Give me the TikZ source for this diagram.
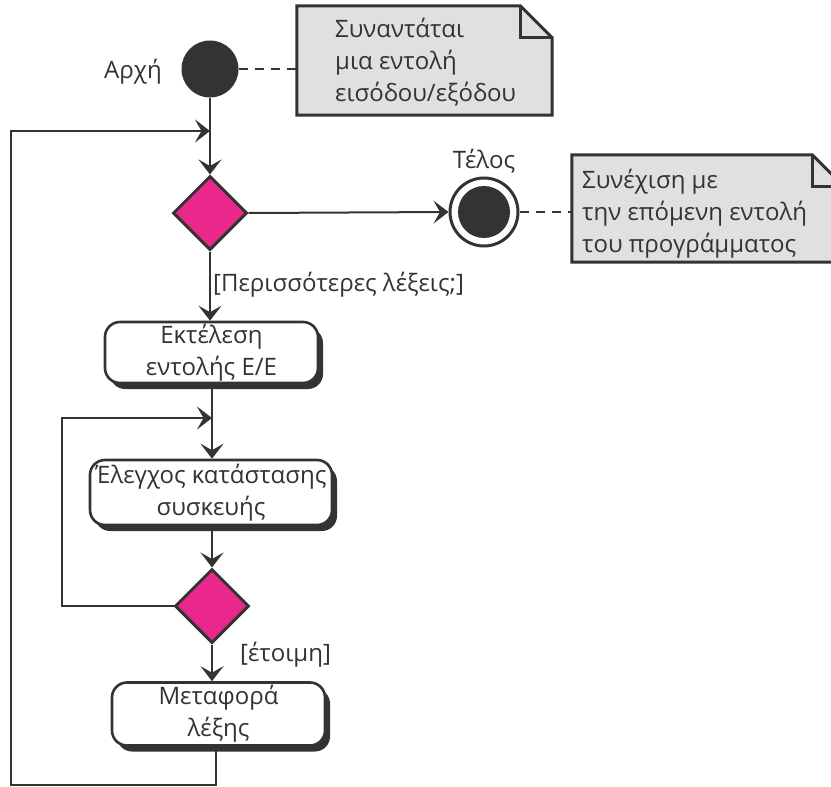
\documentclass[tikz,border=0pt]{standalone}
\usepackage{fontspec}
\setmainfont{Open Sans}
\usetikzlibrary{arrows.meta,shapes.geometric,shadows,calc}
\definecolor{ink}{RGB}{51,51,51}
\definecolor{notefill}{RGB}{224,224,224}
\definecolor{decision}{RGB}{234,40,140}
\begin{document}
\begin{tikzpicture}[x=1pt,y=-1pt,
  font=\fontsize{24}{32}\selectfont, text=ink,
  flow/.style={draw=ink, line width=2pt,
    -{Stealth[length=15pt,width=23pt,inset=6.5pt]}},
  link/.style={draw=ink, line width=2.4pt, dash pattern=on 9pt off 7pt},
  initial/.style={circle, fill=ink, minimum size=57pt, inner sep=0pt},
  finalring/.style={circle, draw=ink, line width=3pt, fill=white, minimum size=68pt, inner sep=0pt},
  finalcore/.style={circle, fill=ink, minimum size=52pt, inner sep=0pt},
  choice/.style={diamond, draw=ink, line width=3pt, fill=decision,
    minimum width=74pt, minimum height=74pt, inner sep=0pt},
  action/.style={rectangle, rounded corners=15pt, draw=ink, line width=2.6pt,
    fill=white, align=center, inner sep=0pt,
    drop shadow={shadow xshift=5pt, shadow yshift=-6pt, fill=ink, opacity=1}},
  notebody/.style={rectangle, inner sep=0pt, align=left},
  fold/.style={draw=ink, line width=3pt, fill=notefill, line join=miter}
]
\useasboundingbox (0,0) rectangle (831,787);

% notes: outline with a folded top-right corner
\node[notebody, minimum width=255pt, minimum height=109pt] (note1) at (424.5,60.5) {};
\draw[fold] (note1.south west) -- (note1.north west)
  -- ($(note1.north east)+(-32,0)$) -- ($(note1.north east)+(0,32)$)
  -- (note1.south east) -- cycle;
\draw[fold, fill=none] ($(note1.north east)+(-32,0)$) -- ($(note1.north east)+(-32,32)$) -- ($(note1.north east)+(0,32)$);
\node[notebody, anchor=west] (note1text) at (335,62)
  {Συναντάται\\μια εντολή\\εισόδου/εξόδου};

\node[notebody, minimum width=272pt, minimum height=107pt] (note2) at (708,208.5) {};
\draw[fold] (note2.south west) -- (note2.north west)
  -- ($(note2.north east)+(-32,0)$) -- ($(note2.north east)+(0,32)$)
  -- (note2.south east) -- cycle;
\draw[fold, fill=none] ($(note2.north east)+(-32,0)$) -- ($(note2.north east)+(-32,32)$) -- ($(note2.north east)+(0,32)$);
\node[notebody, anchor=west] (note2text) at (582,214)
  {Συνέχιση με\\την επόμενη εντολή\\του προγράμματος};

% start and end
\node[initial] (start) at (210,69) {};
\node (startlbl) at (133,72) {Αρχή};
\node[finalring] (end) at (484,212) {};
\node[finalcore] (endcore) at (end.center) {};
\node (endlbl) at (484,161) {Τέλος};

% decisions and actions
\node[choice] (d1) at (210,213) {};
\node[action, minimum width=213pt, minimum height=61pt] (b1) at (211.5,352.5) {Εκτέλεση\\εντολής Ε/Ε};
\node[action, minimum width=242pt, minimum height=65pt] (b2) at (211,492.5) {Έλεγχος κατάστασης\\συσκευής};
\node[choice] (d2) at (212,606) {};
\node[action, minimum width=213pt, minimum height=63pt] (b3) at (218.5,714) {Μεταφορά\\λέξης};

% guard labels
\node[anchor=west, inner sep=0pt] (g1) at (213,285) {[Περισσότερες λέξεις;]};
\node[anchor=west, inner sep=0pt] (g2) at (240,655) {[έτοιμη]};

% note links
\draw[link] (start.east) -- (note1.west |- start.east);
\draw[link] (end.east) -- (note2.west |- end.east);

% main flow
\coordinate (j1) at (210,131);
\coordinate (j2) at (212,418);
\draw[flow] (start.south) -- (d1.north);
\draw[flow] (d1.east) -- (end.west);
\draw[flow] (d1.south) -- (d1.south |- b1.north);
\draw[flow] (b1.south -| j2) -- (j2 |- b2.north);
\draw[flow] (b2.south -| d2.north) -- (d2.north);
\draw[flow] (d2.south) -- (d2.south |- b3.north);

% outer loop back to the decision
\coordinate (outer) at (11,785);
\draw[flow] (b3.south -| 216,0) |- (outer) -- (outer |- j1) -- (j1);

% inner polling loop
\coordinate (inner) at (62,606);
\draw[flow] (d2.west) -- (inner) -- (inner |- j2) -- (j2);
\end{tikzpicture}
\end{document}
